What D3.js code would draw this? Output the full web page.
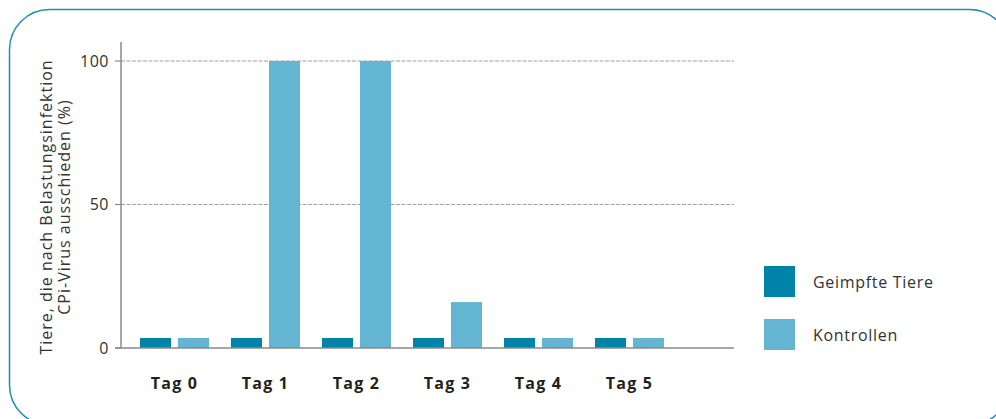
<!DOCTYPE html>
<html><head><meta charset="utf-8">
<script src="https://cdn.jsdelivr.net/npm/d3@7/dist/d3.min.js"></script>
<style>body{margin:0;background:#fff}svg{display:block;font-family:"Open Sans","DejaVu Sans",sans-serif}</style>
</head><body><svg id="c" width="996" height="419"></svg>
<script>
const categories = ["Tag 0","Tag 1","Tag 2","Tag 3","Tag 4","Tag 5"];
const seriesNames = ["Geimpfte Tiere","Kontrollen"];
const geimpft = [3.5,3.5,3.5,3.5,3.5,3.5];
const kontrollen = [3.5,100,100,16,3.5,3.5];
const yTicks = [0,50,100];
const colors = ["#0083a9","#63b5d2"];

const svg = d3.select("#c");
svg.append("rect").attr("x",9.5).attr("y",9.5).attr("width",1000).attr("height",415.5)
  .attr("rx",40).attr("fill","none").attr("stroke","#1d8fb5").attr("stroke-width",1.5);

const y = d3.scaleLinear().domain([0,100]).range([348,61]);
const x0 = d3.scaleBand().domain(categories).range([140,664]).paddingInner(22/91).paddingOuter(0);
const x1 = d3.scaleBand().domain(seriesNames).range([0,x0.bandwidth()]).paddingInner(7/38).paddingOuter(0);

// grid
svg.append("g").selectAll("line").data(yTicks.filter(d=>d>0)).join("line")
  .attr("x1",121).attr("x2",734).attr("y1",d=>y(d)).attr("y2",d=>y(d))
  .attr("stroke","#a0a0a0").attr("stroke-width",1.2).attr("stroke-dasharray","4,1.5");

// bars
const data = categories.map((c,i)=>({c, vals:[geimpft[i],kontrollen[i]]}));
const g = svg.append("g");
data.forEach(d=>{
  d.vals.forEach((v,j)=>{
    g.append("rect").attr("x",x0(d.c)+x1(seriesNames[j])).attr("width",x1.bandwidth())
      .attr("y",y(v)).attr("height",y(0)-y(v)).attr("fill",colors[j]);
  });
});

// axes
svg.append("line").attr("x1",121).attr("x2",121).attr("y1",42).attr("y2",348).attr("stroke","#8a8a8a").attr("stroke-width",1.5);
svg.append("line").attr("x1",115).attr("x2",734).attr("y1",348).attr("y2",348).attr("stroke","#8a8a8a").attr("stroke-width",1.5);
svg.append("g").selectAll("line").data(yTicks).join("line")
  .attr("x1",115).attr("x2",121).attr("y1",d=>y(d)).attr("y2",d=>y(d)).attr("stroke","#8a8a8a").attr("stroke-width",1.2);
svg.append("g").selectAll("text").data(yTicks).join("text")
  .attr("x",109).attr("y",d=>y(d)).attr("dy","0.35em").attr("text-anchor","end")
  .attr("font-size",16).attr("letter-spacing","0.5px").attr("fill","#333").text(d=>d);

// x labels
svg.append("g").selectAll("text").data(categories).join("text")
  .attr("x",d=>x0(d)+x0.bandwidth()/2).attr("y",389).attr("text-anchor","middle")
  .attr("font-size",16).attr("letter-spacing","1.2px").attr("font-weight","bold").attr("fill","#231f20").text(d=>d);

// y title
const yt = svg.append("text").attr("transform","translate(52,207) rotate(-90)")
  .attr("text-anchor","middle").attr("font-size",16).attr("letter-spacing","1px").attr("fill","#333");
yt.append("tspan").attr("x",0).attr("y",0).text("Tiere, die nach Belastungsinfektion");
yt.append("tspan").attr("x",0).attr("y",18).text("CPi-Virus ausschieden (%)");

// legend
const lg = svg.append("g").selectAll("g").data(seriesNames).join("g")
  .attr("transform",(d,i)=>`translate(764,${266+i*53})`);
lg.append("rect").attr("width",31).attr("height",31).attr("fill",(d,i)=>colors[i]);
lg.append("text").attr("x",49).attr("y",16).attr("dy","0.35em").attr("font-size",16).attr("letter-spacing","0.7px").attr("fill","#333").text(d=>d);
</script></body></html>
